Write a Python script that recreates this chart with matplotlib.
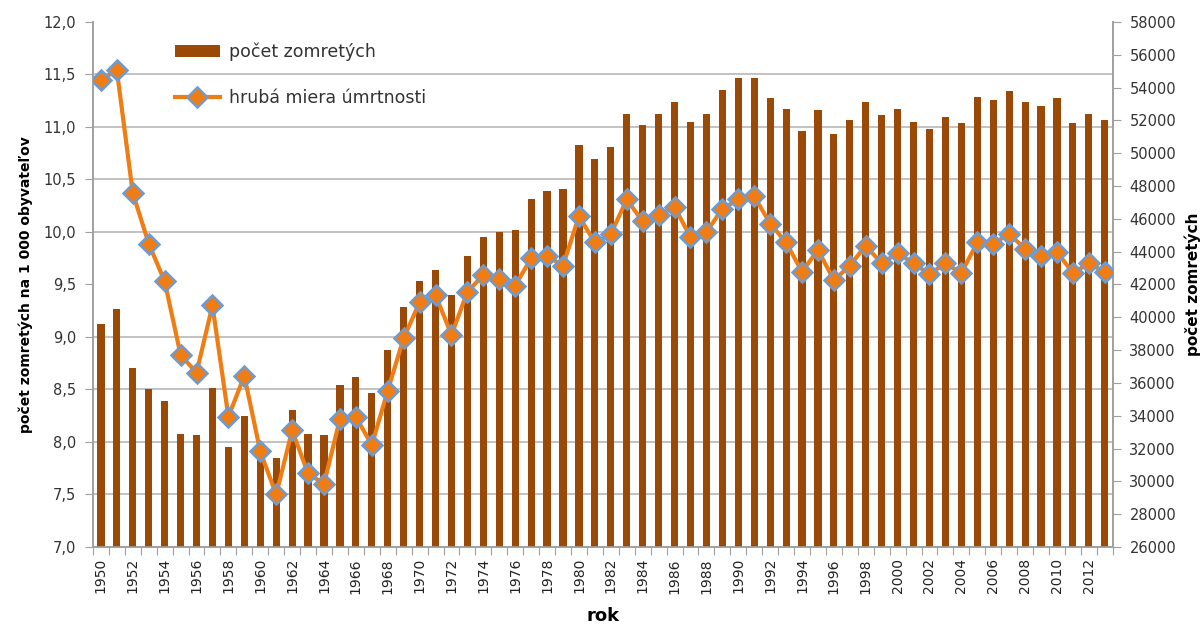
import numpy as np
import matplotlib
matplotlib.use("Agg")
import matplotlib.pyplot as plt
from matplotlib.ticker import FixedLocator, NullFormatter

plt.rcParams["font.family"] = ["DejaVu Sans"]

years = list(range(1950, 2014))
deaths = [39600, 40500, 36900, 35600, 34900, 32900, 32800, 35700, 32100, 34000,
          31700, 31400, 34350, 32900, 32800, 35900, 36350, 35400, 38000, 40600,
          42200, 42900, 41350, 43750, 44900, 45200, 45350, 47200, 47700, 47800,
          50500, 49650, 50400, 52400, 51700, 52400, 53100, 51900, 52400, 53850,
          54600, 54600, 53350, 52700, 51350, 52650, 51200, 52050, 53100, 52350,
          52700, 51900, 51500, 52200, 51850, 53450, 53250, 53800, 53100, 52900,
          53350, 51850, 52400, 52050]
rate = [11.45, 11.54, 10.37, 9.89, 9.53, 8.83, 8.66, 9.30, 8.24, 8.63,
        7.91, 7.50, 8.11, 7.70, 7.60, 8.22, 8.24, 7.97, 8.49, 8.99,
        9.33, 9.40, 9.02, 9.43, 9.59, 9.55, 9.49, 9.75, 9.77, 9.68,
        10.15, 9.90, 9.98, 10.31, 10.10, 10.16, 10.24, 9.95, 10.00, 10.22,
        10.31, 10.34, 10.08, 9.90, 9.62, 9.83, 9.54, 9.68, 9.87, 9.70,
        9.80, 9.70, 9.60, 9.70, 9.61, 9.90, 9.89, 9.98, 9.84, 9.77,
        9.81, 9.61, 9.70, 9.62]

bar_col = "#9A4A06"
line_col = "#F07C14"
edge_col = "#6E9BD0"
grid_col = "#B8B8B8"
axis_col = "#A0A0A0"

fig = plt.figure(figsize=(12.04, 6.28), dpi=100)
ax = fig.add_axes([0.0772, 0.129, 0.847, 0.836])  # bars, right scale
ax2 = ax.twinx()                                   # line, left scale

x = np.arange(len(years))
bars = ax.bar(x, deaths, width=0.45, color=bar_col, zorder=3, label="počet zomretých")
ax.set_ylim(26000, 58000)
ax.set_xlim(-0.5, len(years) - 0.5)
ax.yaxis.tick_right()
ax.yaxis.set_label_position("right")
ax.set_yticks(np.arange(26000, 58001, 2000))
# gridlines follow the left axis steps (7,0 ... 12,0)
ax.yaxis.set_minor_locator(FixedLocator(np.linspace(26000, 58000, 11)))
ax.yaxis.set_minor_formatter(NullFormatter())
ax.grid(True, which="minor", axis="y", color=grid_col, lw=1.2, zorder=0)
ax.tick_params(axis="y", which="minor", length=0)
ax.tick_params(axis="y", which="major", direction="out", length=6, color=axis_col,
               labelsize=10.5, labelcolor="#333333", pad=6)

# x axis: tick marks at category boundaries, labels every other year
ax.set_xticks(np.arange(-0.5, len(years), 1))
ax.set_xticklabels([])
ax.tick_params(axis="x", which="major", direction="out", length=6, color=axis_col)
ax.set_xticks(x[::2], minor=True)
ax.set_xticklabels([str(y) for y in years[::2]], minor=True, rotation=90,
                   fontsize=10, color="#222222")
ax.tick_params(axis="x", which="minor", length=0, pad=8)

line, = ax2.plot(x, rate, color=line_col, lw=3, marker="D", markersize=10,
                 markerfacecolor=line_col, markeredgecolor=edge_col,
                 markeredgewidth=1.8, zorder=5, label="hrubá miera úmrtnosti")
ax2.set_ylim(7.0, 12.0)
ax2.yaxis.tick_left()
ax2.yaxis.set_label_position("left")
ax2.set_yticks(np.arange(7.0, 12.01, 0.5))
ax2.set_yticklabels([("%.1f" % v).replace(".", ",") for v in np.arange(7.0, 12.01, 0.5)])
ax2.tick_params(axis="y", direction="out", length=6, color=axis_col,
                labelsize=10.5, labelcolor="#333333", pad=6)

for a in (ax, ax2):
    a.spines["top"].set_visible(False)
    for s in ("left", "right", "bottom"):
        a.spines[s].set_color(axis_col)
        a.spines[s].set_linewidth(1.2)

ax2.set_ylabel("počet zomretých na 1 000 obyvateľov", fontsize=10, fontweight="bold",
               labelpad=8)
ax.set_ylabel("počet zomretých", fontsize=11, fontweight="bold", labelpad=6)
ax.set_xlabel("rok", fontsize=13, fontweight="bold", labelpad=10)

leg = ax2.legend([bars, line], ["počet zomretých", "hrubá miera úmrtnosti"],
                 loc="upper left", bbox_to_anchor=(0.065, 0.99), frameon=False,
                 fontsize=12.5, handlelength=2.6, labelspacing=1.6, handletextpad=0.5)
for t in leg.get_texts():
    t.set_color("#333333")

fig.savefig("out.png", dpi=100)
